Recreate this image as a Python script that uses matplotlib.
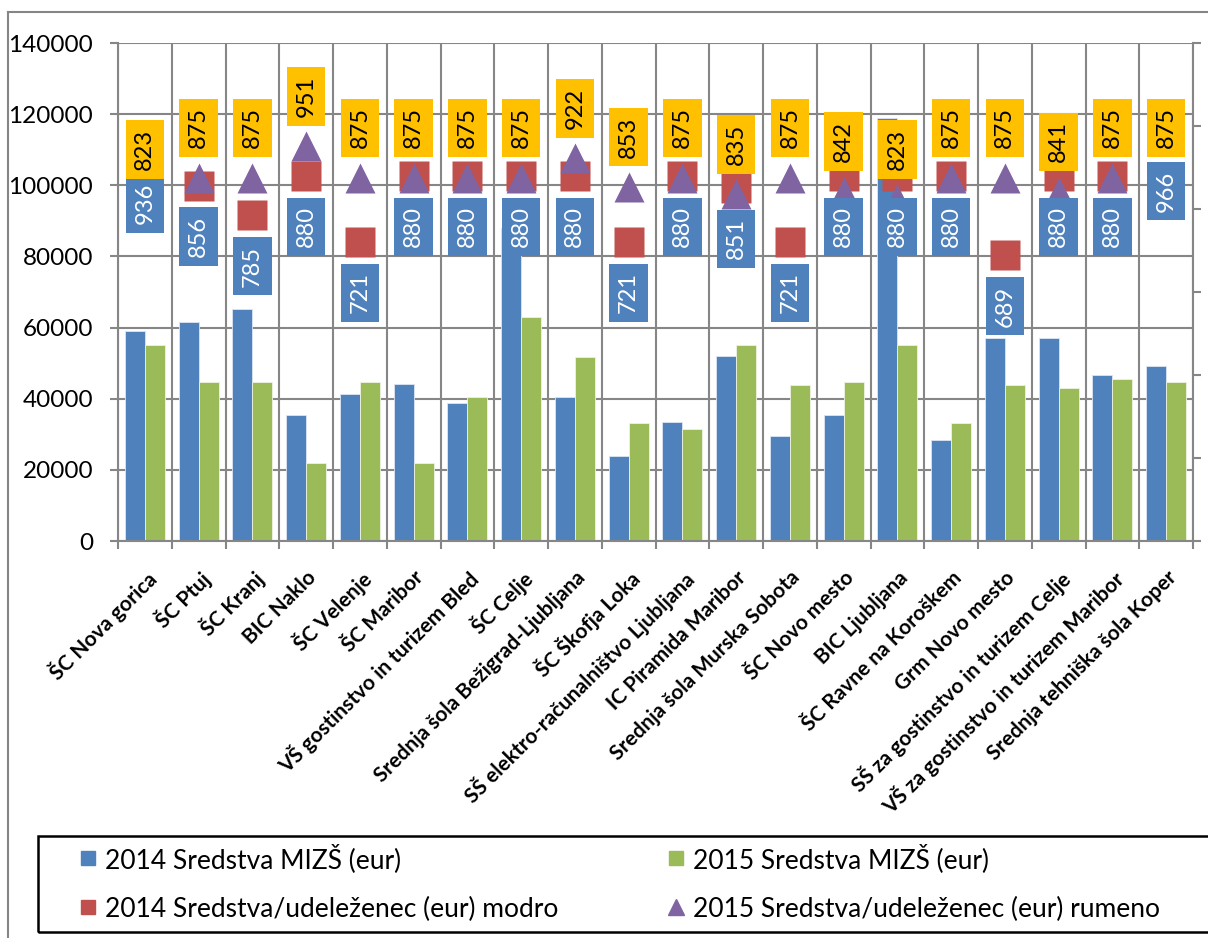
import matplotlib.pyplot as plt
import numpy as np
from matplotlib.lines import Line2D
from matplotlib.patches import Rectangle

plt.rcParams['font.family'] = ['Lato', 'DejaVu Sans']

categories = [
    'ŠC Nova gorica', 'ŠC Ptuj', 'ŠC Kranj', 'BIC Naklo', 'ŠC Velenje',
    'ŠC Maribor', 'VŠ gostinstvo in turizem Bled', 'ŠC Celje',
    'Srednja šola Bežigrad-Ljubljana', 'ŠC Škofja Loka',
    'SŠ elektro-računalništvo Ljubljana', 'IC Piramida Maribor',
    'Srednja šola Murska Sobota', 'ŠC Novo mesto', 'BIC Ljubljana',
    'ŠC Ravne na Koroškem', 'Grm Novo mesto',
    'SŠ za gostinstvo in turizem Celje', 'VŠ za gostinstvo in turizem Maribor',
    'Srednja tehniška šola Koper',
]
mizs_2014 = [59000, 61600, 65100, 35300, 41200, 44000, 38800, 88000, 40500, 23900,
             33400, 52000, 29600, 35400, 118900, 28400, 57100, 57100, 46600, 49300]
mizs_2015 = [55100, 44600, 44600, 21900, 44600, 21900, 40400, 63000, 51600, 33200,
             31600, 55100, 43800, 44700, 55100, 33200, 43800, 42900, 45500, 44600]
per_2014 = [936, 856, 785, 880, 721, 880, 880, 880, 880, 721,
            880, 851, 721, 880, 880, 880, 689, 880, 880, 966]
per_2015 = [823, 875, 875, 951, 875, 875, 875, 875, 922, 853,
            875, 835, 875, 842, 823, 875, 875, 841, 875, 875]

labels_legend = ['2014 Sredstva MIZŠ (eur)', '2015 Sredstva MIZŠ (eur)',
                 '2014 Sredstva/udeleženec (eur) modro',
                 '2015 Sredstva/udeleženec (eur) rumeno']

BLUE, GREEN, RED, PURPLE, ORANGE = '#4F81BD', '#9BBB59', '#C0504D', '#8064A2', '#FFC000'
GRID = '#868686'

W, H = 1208, 938
fig = plt.figure(figsize=(W / 100, H / 100), dpi=100)

# okvir grafa (levo in zgoraj)
fig.add_artist(Line2D([8 / W, 8 / W], [0, 1 - 12 / H], color=GRID, lw=1.5))
fig.add_artist(Line2D([8 / W, 1], [1 - 12 / H, 1 - 12 / H], color=GRID, lw=1.5))

ax = fig.add_axes([118 / W, 1 - 541 / H, (1193 - 118) / W, (541 - 43) / H])
x = np.arange(len(categories))
bw = 0.372
ax.bar(x - bw / 2, mizs_2014, bw, color=BLUE, edgecolor='#dce6f2', linewidth=0.6)
ax.bar(x + bw / 2, mizs_2015, bw, color=GREEN, edgecolor='#eef3e2', linewidth=0.6)

ax.set_xlim(-0.5, len(categories) - 0.5)
ax.set_ylim(0, 140000)
ax.set_yticks(np.arange(0, 140001, 20000))
ax.set_xticks(x)
ax.set_xticklabels(categories, rotation=45, ha='right', rotation_mode='anchor',
                   fontsize=15, fontweight='bold')
ax.set_xticks(np.arange(-0.5, len(categories)), minor=True)
ax.tick_params(axis='x', which='major', length=0, pad=19)
ax.tick_params(axis='x', which='minor', length=6, color=GRID, width=1.5)
ax.tick_params(axis='y', length=6, color=GRID, width=1.5, labelsize=17.5, pad=12)
ax.set_axisbelow(True)
ax.yaxis.grid(True, color=GRID, lw=1.5)
ax.xaxis.grid(True, which='minor', color=GRID, lw=1.5)
for s in ['top', 'right']:
    ax.spines[s].set_visible(False)
for s in ['left', 'bottom']:
    ax.spines[s].set_color(GRID)
    ax.spines[s].set_linewidth(1.5)

ax2 = ax.twinx()
ax2.set_ylim(0, 1200)
ax2.set_yticks(np.arange(0, 1201, 200))
ax2.tick_params(axis='y', length=6, color=GRID, width=1.5, labelright=False)
for s in ['top', 'left', 'bottom']:
    ax2.spines[s].set_visible(False)
ax2.spines['right'].set_color(GRID)
ax2.spines['right'].set_linewidth(1.5)

ax2.plot(x, per_2014, ls='', marker='s', ms=21.6, color=RED, mec='none', zorder=3)
ax2.plot(x, per_2015, ls='', marker='^', ms=21.6, color=PURPLE, mec='none', zorder=4)

for i, v in enumerate(per_2014):
    ax2.annotate(str(v), (i, v), xytext=(0, -51), textcoords='offset pixels',
                 rotation=90, ha='center', va='center', color='white', fontsize=17,
                 bbox=dict(boxstyle='square,pad=0.37', fc=BLUE, ec='none'),
                 zorder=10, annotation_clip=False)
for i, v in enumerate(per_2015):
    ax2.annotate(str(v), (i, v), xytext=(0, 50), textcoords='offset pixels',
                 rotation=90, ha='center', va='center', color='black', fontsize=17,
                 bbox=dict(boxstyle='square,pad=0.37', fc=ORANGE, ec='none'),
                 zorder=10, annotation_clip=False)

# legenda
fig.add_artist(Rectangle((38 / W, 1 - 932 / H), 1.0, 96 / H, transform=fig.transFigure,
                         fill=False, ec='black', lw=1.8))
handles = [
    Line2D([], [], ls='', marker='s', ms=10, color=BLUE),
    Line2D([], [], ls='', marker='s', ms=10, color=RED),
    Line2D([], [], ls='', marker='s', ms=10, color=GREEN),
    Line2D([], [], ls='', marker='^', ms=11, color=PURPLE),
]
order = [labels_legend[0], labels_legend[2], labels_legend[1], labels_legend[3]]
fig.legend(handles, order, loc='upper left', bbox_to_anchor=(55 / W, 1 - 820 / H),
           ncol=2, frameon=False, fontsize=19, handlelength=0.7, handletextpad=0.3,
           labelspacing=0.9, columnspacing=4.1)

fig.savefig('out.png', dpi=100)
